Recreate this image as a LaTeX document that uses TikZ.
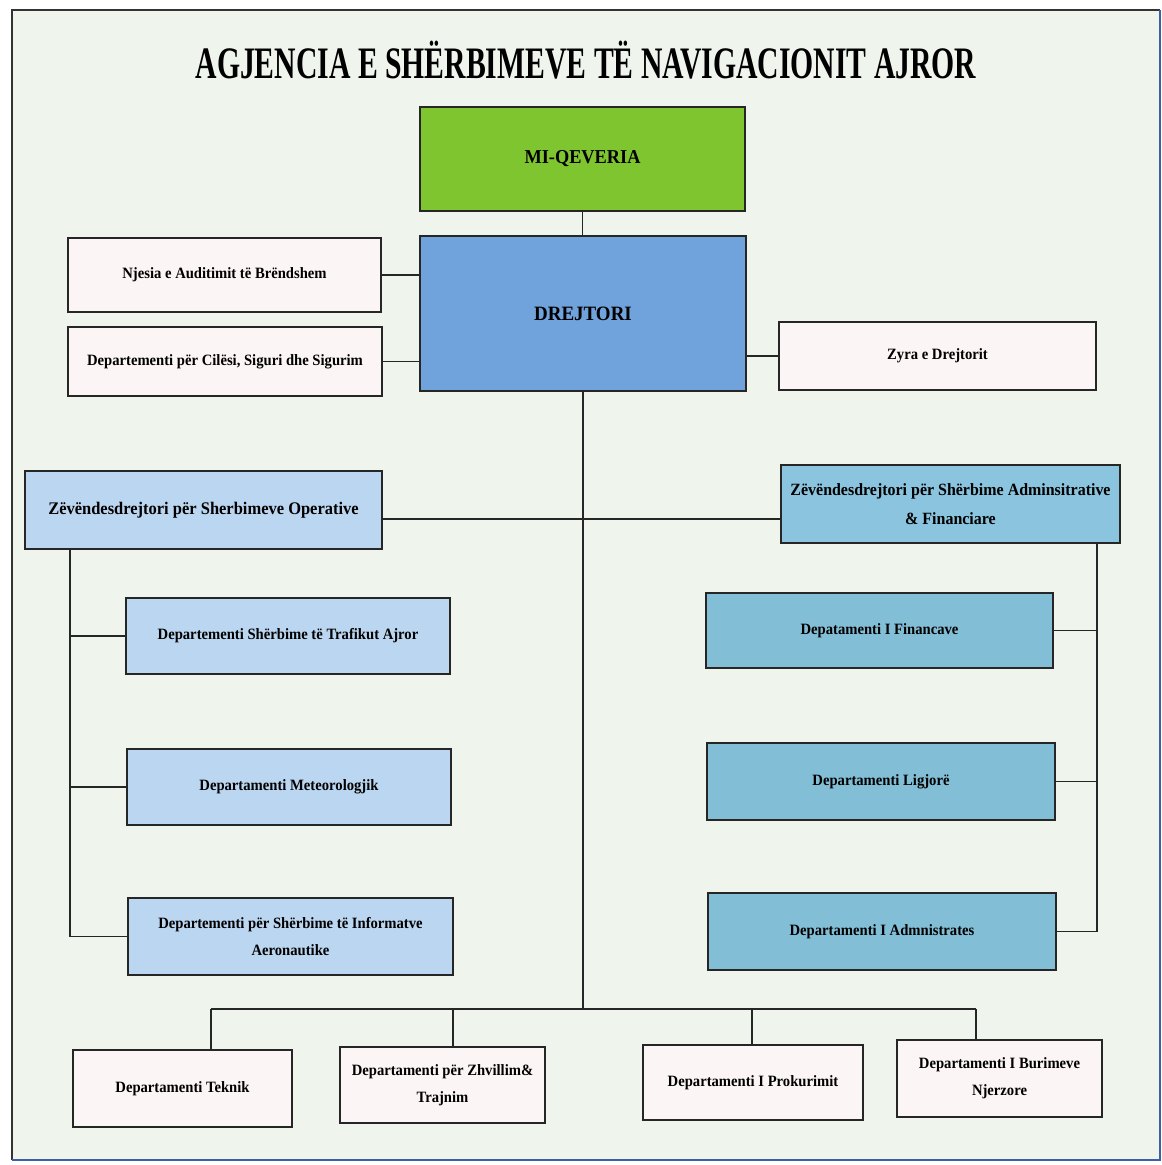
\documentclass[tikz,border=0pt]{standalone}
\usepackage{fontspec}
\usepackage{xcolor}
\setmainfont{Liberation Serif}
\newfontfamily\titlefont[FakeStretch=0.66]{Liberation Serif}
\newfontfamily\boxfont[FakeStretch=0.93]{Liberation Serif}
\usepackage{tikz}
\usetikzlibrary{positioning}
\usetikzlibrary{calc}
\definecolor{paper}{RGB}{239,244,237}
\definecolor{govgreen}{RGB}{126,197,48}
\definecolor{dirblue}{RGB}{112,162,220}
\definecolor{paleunit}{RGB}{252,245,245}
\definecolor{opblue}{RGB}{187,214,240}
\definecolor{admblue}{RGB}{138,196,222}
\definecolor{findept}{RGB}{130,190,214}
\definecolor{framblue}{RGB}{60,95,165}
\tikzstyle{unit} = [rectangle, draw=black!85, line width=1.4pt, align=center,
  inner sep=2pt, font=\boxfont\bfseries\fontsize{11.2}{19}\selectfont]
\tikzstyle{link} = [draw=black!85, line width=1.3pt]

\begin{document}
\begin{tikzpicture}[x=0.025cm, y=-0.025cm]
  \useasboundingbox (0,0) rectangle (1162,1165);
  % sheet
  \fill[paper] (12,10) rectangle (1160,1160);
  \draw[line width=1.5pt, black!80] (12,1160) -- (12,10) -- (1160,10);
  \draw[line width=1.5pt, framblue] (12,1160) -- (1160,1160) -- (1160,10);
  \node[font=\titlefont\bfseries\fontsize{32}{32}\selectfont] (title) at (586,60)
    {AGJENCIA E SHËRBIMEVE TË NAVIGACIONIT AJROR};
  % top
  \node[unit, fill=govgreen, minimum width=8.125cm, minimum height=2.6cm,
    font=\boxfont\bfseries\fontsize{14}{14}\selectfont] (gov) at (582.5,159) {MI-QEVERIA};
  \node[unit, fill=dirblue, minimum width=8.15cm, minimum height=3.875cm,
    font=\boxfont\bfseries\fontsize{14.5}{14.5}\selectfont] (dir) at (583,313.5) {DREJTORI};
  \node[unit, fill=paleunit, minimum width=7.825cm, minimum height=1.85cm] (audit) at (224.5,275)
    {Njesia e Auditimit të Brëndshem};
  \node[unit, fill=paleunit, minimum width=7.85cm, minimum height=1.725cm] (quality) at (225,361.5)
    {Departementi për Cilësi, Siguri dhe Sigurim};
  \node[unit, fill=paleunit, minimum width=7.925cm, minimum height=1.7cm] (office) at (937.5,356)
    {Zyra e Drejtorit};
  % deputies
  \node[unit, fill=opblue, minimum width=8.925cm, minimum height=1.95cm,
    font=\boxfont\bfseries\fontsize{12.6}{19}\selectfont] (depop) at (203.5,510)
    {Zëvëndesdrejtori për Sherbimeve Operative};
  \node[unit, fill=admblue, minimum width=8.475cm, minimum height=1.95cm,
    font=\boxfont\bfseries\fontsize{12.2}{21}\selectfont] (depadm) at (950.5,504)
    {Zëvëndesdrejtori për Shërbime Adminsitrative\\\& Financiare};
  % operative departments
  \node[unit, fill=opblue, minimum width=8.1cm, minimum height=1.9cm] (traffic) at (288,636)
    {Departementi Shërbime të Trafikut Ajror};
  \node[unit, fill=opblue, minimum width=8.1cm, minimum height=1.9cm] (meteo) at (289,787)
    {Departamenti Meteorologjik};
  \node[unit, fill=opblue, minimum width=8.125cm, minimum height=1.925cm] (aero) at (290.5,936.5)
    {Departementi për Shërbime të Informatve\\Aeronautike};
  % administrative departments
  \node[unit, fill=findept, minimum width=8.675cm, minimum height=1.875cm] (finance) at (879.5,630.5)
    {Depatamenti I Financave};
  \node[unit, fill=findept, minimum width=8.7cm, minimum height=1.925cm] (legal) at (881,781.5)
    {Departamenti Ligjorë};
  \node[unit, fill=findept, minimum width=8.7cm, minimum height=1.925cm] (admin) at (882,931.5)
    {Departamenti I Admnistrates};
  % bottom row
  \node[unit, fill=paleunit, minimum width=5.475cm, minimum height=1.925cm] (tech) at (182.5,1088.5)
    {Departamenti Teknik};
  \node[unit, fill=paleunit, minimum width=5.125cm, minimum height=1.9cm] (train) at (442.5,1085)
    {Departamenti për Zhvillim\&\\Trajnim};
  \node[unit, fill=paleunit, minimum width=5.5cm, minimum height=1.875cm] (procure) at (753,1082.5)
    {Departamenti I Prokurimit};
  \node[unit, fill=paleunit, minimum width=5.125cm, minimum height=1.925cm] (hr) at (999.5,1078.5)
    {Departamenti I Burimeve\\Njerzore};

  % connectors
  \coordinate (deprow) at (0,519);
  \coordinate (lspine) at (70,0);
  \coordinate (rspine) at (1097,0);
  \coordinate (bus) at (0,1009);
  \coordinate (drop1) at (211,1009);
  \coordinate (drop2) at (453,1009);
  \coordinate (drop3) at (752,1009);
  \coordinate (drop4) at (976,1009);
  \path[link] (gov.south) -- (gov.south |- dir.north);
  \path[link] (audit.east) -- (audit.east -| dir.west);
  \path[link] (quality.east) -- (quality.east -| dir.west);
  \path[link] (dir.east |- office.west) -- (office.west);
  \path[link] (dir.south) -- (dir.south |- bus);
  \path[link] (depop.east |- deprow) -- (depadm.west |- deprow);
  % operative spine
  \path[link] (lspine |- depop.south) -- (lspine |- aero.west);
  \foreach \d in {traffic, meteo, aero}
    \path[link] (lspine |- \d.west) -- (\d.west);
  % administrative spine
  \path[link] (rspine |- depadm.south) -- (rspine |- admin.east);
  \foreach \d in {finance, legal, admin}
    \path[link] (\d.east) -- (rspine |- \d.east);
  % bottom bus
  \path[link] (drop1) -- (drop4);
  \path[link] (drop1) -- (drop1 |- tech.north);
  \path[link] (drop2) -- (drop2 |- train.north);
  \path[link] (drop3) -- (drop3 |- procure.north);
  \path[link] (drop4) -- (drop4 |- hr.north);
\end{tikzpicture}
\end{document}
